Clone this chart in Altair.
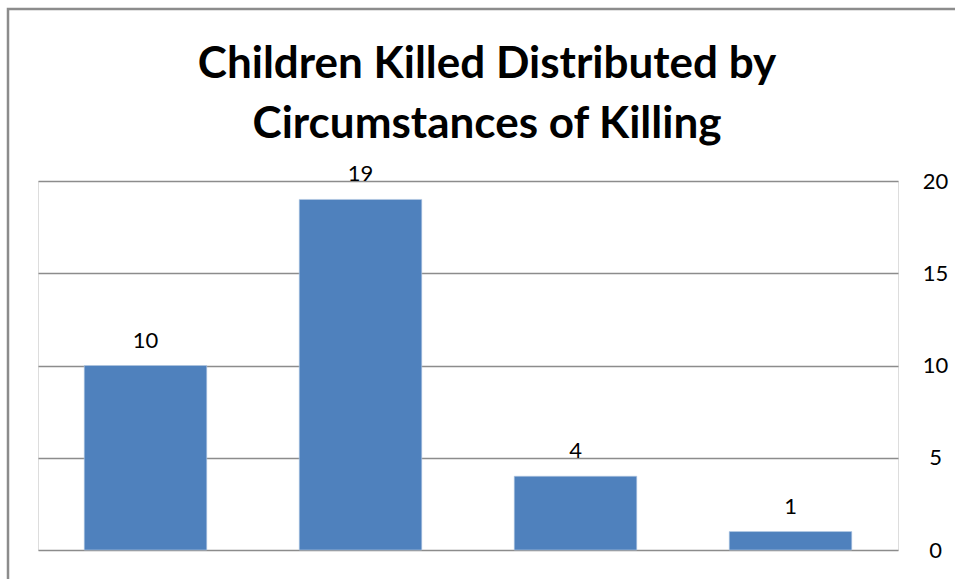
import altair as alt
import pandas as pd

# Circumstances of killing and number of children killed in each
circumstances = ["Circumstance 1", "Circumstance 2", "Circumstance 3", "Circumstance 4"]
children_killed = [10, 19, 4, 1]
y_ticks = [0, 5, 10, 15, 20]
title_lines = ["Children Killed Distributed by", "Circumstances of Killing"]

df = pd.DataFrame({"circumstance": circumstances, "killed": children_killed})

FONT = "Lato"
BAR_BLUE = "#4F81BD"
GRID_GREY = "#8C8C8C"

base = alt.Chart(df)

bars = base.mark_bar(color=BAR_BLUE, stroke="#B9CDE5", strokeWidth=0.6).encode(
    x=alt.X(
        "circumstance:N",
        sort=circumstances,
        scale=alt.Scale(paddingInner=0.43, paddingOuter=0.215),
        axis=None,
    ),
    y=alt.Y(
        "killed:Q",
        scale=alt.Scale(domain=[0, 20], nice=False),
        axis=alt.Axis(
            orient="right",
            values=y_ticks,
            title=None,
            domain=False,
            ticks=False,
            grid=True,
            gridColor=GRID_GREY,
            gridWidth=1.5,
            gridOpacity=1,
            labelFont=FONT,
            labelFontSize=22,
            labelColor="#000000",
            labelAlign="center",
            labelPadding=37,
        ),
    ),
)

labels = base.mark_text(
    font=FONT, fontSize=22, color="#000000", baseline="alphabetic", dy=-18
).encode(
    x=alt.X("circumstance:N", sort=circumstances),
    y=alt.Y("killed:Q"),
    text=alt.Text("killed:Q"),
)

# Outer chart frame
frame = alt.Chart(pd.DataFrame({"f": [0]})).mark_rect(
    fill="transparent", fillOpacity=0, stroke="#8C8C8C", strokeWidth=2.5, clip=False
).encode(
    x=alt.value(-30),
    x2=alt.value(990),
    y=alt.value(-172),
    y2=alt.value(640),
)

# Two-line bold heading above the plot
heading = alt.Chart(pd.DataFrame({"f": [0]})).mark_text(
    font=FONT,
    fontSize=44,
    fontWeight="bold",
    color="#000000",
    align="center",
    baseline="alphabetic",
    lineBreak="\n",
    lineHeight=60,
    clip=False,
).encode(
    x=alt.value(449),
    y=alt.value(-103),
    text=alt.value("\n".join(title_lines)),
)

chart = (
    alt.layer(frame, heading, bars, labels)
    .properties(
        width=860,
        height=369,
        padding={"left": 38, "top": 181, "right": 57, "bottom": 29},
        autosize=alt.AutoSizeParams(type="none"),
    )
    .configure_view(stroke=None)
    .configure(background="#FFFFFF")
)

chart.save("out.html", embed_options={"renderer": "svg", "actions": False})
